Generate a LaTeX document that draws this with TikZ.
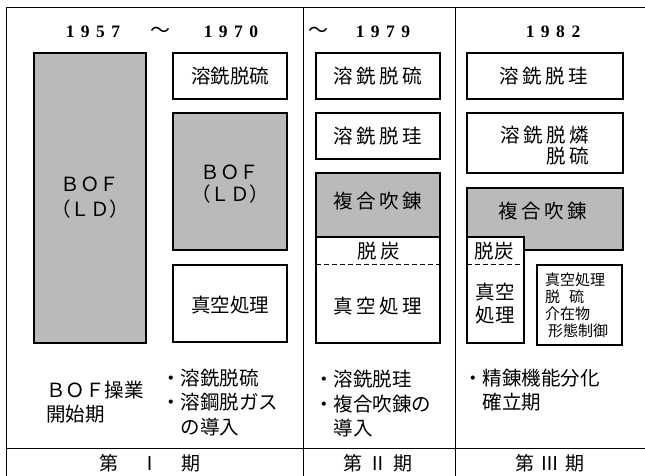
\documentclass[tikz,border=0pt]{standalone}
\usepackage{fontspec}
\newfontfamily\jp{Noto Sans CJK JP}
\newfontfamily\dg{Liberation Serif}
\newcommand\gp{\hspace{3.5pt}}
\begin{document}
\begin{tikzpicture}[x=1pt,y=-1pt,
  frame/.style={line width=0.8pt},
  wbox/.style={draw,line width=1.4pt,fill=white},
  gbox/.style={draw,line width=1.4pt,fill=black!27},
  lbl/.style={font=\jp\fontsize{19.5}{22}\selectfont,inner sep=0pt},
  slbl/.style={font=\jp\fontsize{15}{17}\selectfont,inner sep=0pt,align=left},
  btxt/.style={font=\jp\fontsize{19.5}{24.5}\selectfont,inner sep=0pt,align=left,anchor=north west},
  yr/.style={font=\dg\bfseries\fontsize{17.5}{20}\selectfont,inner sep=0pt},
  tl/.style={font=\jp\fontsize{20}{20}\selectfont,inner sep=0pt},
  ft/.style={font=\jp\fontsize{19}{20}\selectfont,inner sep=0pt}]
\useasboundingbox (0,0) rectangle (645,475);
% frame
\draw[frame] (645,7) -- (6,7) -- (6,476);
\draw[frame] (303,7) -- (303,476);
\draw[frame] (455,7) -- (455,476);
\draw[frame] (6,448) -- (645,448);
% years
\node[yr] (y1) at (93,32) {1\hspace{6.5pt}9\hspace{6.5pt}5\hspace{6.5pt}7};
\node[tl] (t1) at (160,32) {～};
\node[yr] (y2) at (231,32) {1\hspace{6.5pt}9\hspace{6.5pt}7\hspace{6.5pt}0};
\node[tl] (t2) at (318,32) {～};
\node[yr] (y3) at (383,32) {1\hspace{6.5pt}9\hspace{6.5pt}7\hspace{6.5pt}9};
\node[yr] (y4) at (553,32) {1\hspace{6.5pt}9\hspace{6.5pt}8\hspace{6.5pt}2};
% column 1
\draw[gbox] (34,53) rectangle (146,343);
\node[lbl,align=center,font=\jp\fontsize{19.5}{25}\selectfont] (bof1) at (90,198) {ＢＯＦ\\（ＬＤ）};
\draw[wbox] (173,53) rectangle (287,99);
\node[lbl] (a1) at (230,76) {溶銑脱硫};
\draw[gbox] (173,113) rectangle (287,250);
\node[lbl,align=center] (bof2) at (230,184) {ＢＯＦ\\（ＬＤ）};
\draw[wbox] (173,265) rectangle (287,342);
\node[lbl] (v1) at (230,305) {真空処理};
% column 2
\draw[wbox] (316,53) rectangle (440,99);
\node[lbl] (a2) at (378,76) {溶\gp 銑\gp 脱\gp 硫};
\draw[wbox] (316,113) rectangle (440,159);
\node[lbl] (b2) at (378,136) {溶\gp 銑\gp 脱\gp 珪};
\draw[gbox] (316,173) rectangle (440,237);
\node[lbl] (c2) at (378,201) {複\gp 合\gp 吹\gp 錬};
\draw[wbox] (316,237) rectangle (440,343);
\draw[line width=0.8pt,dash pattern=on 5pt off 3pt] (316,264) -- (440,264);
\node[lbl] (d2) at (379,251) {脱\gp 炭};
\node[lbl] (v2) at (378,306) {真\gp 空\gp 処\gp 理};
% column 3
\draw[wbox] (467,53) rectangle (623,99);
\node[lbl] (a3) at (544,76) {溶\gp 銑\gp 脱\gp 珪};
\draw[wbox] (467,113) rectangle (623,173);
\node[lbl,align=right,font=\jp\fontsize{19.5}{21}\selectfont] (b3) at (545,146) {溶\gp 銑\gp 脱\gp 燐\\脱\gp 硫};
\draw[gbox] (467,188) -- (623,188) -- (623,250) -- (524,250) -- (524,237) -- (467,237) -- cycle;
\node[lbl] (c3) at (543,211) {複\gp 合\gp 吹\gp 錬};
\draw[wbox] (467,237) rectangle (524,343);
\draw[line width=0.8pt,dash pattern=on 5pt off 3pt] (467,264) -- (524,264);
\node[lbl] (d3) at (494,251) {脱炭};
\node[lbl,align=center,font=\jp\fontsize{19.5}{23}\selectfont] (v3) at (495,304) {真空\\処理};
\draw[wbox] (537,265) rectangle (622,345);
\node[slbl,anchor=north west] (s3) at (545,273) {真空処理\\脱\hspace{9pt}硫\\介在物\\\hspace{3pt}形態制御};
% bottom texts
\node[btxt] (p1) at (46,380.5) {ＢＯＦ操業\\開始期};
\node[btxt] (p2) at (161,368.5) {・溶銑脱硫\\・溶鋼脱ガス\\\hspace{19.5pt}の導入};
\node[btxt] (p3) at (314,370) {・溶銑脱珪\\・複合吹錬の\\\hspace{19.5pt}導入};
\node[btxt] (p4) at (463,368.5) {・精錬機能分化\\\hspace{19.5pt}確立期};
% footer
\node[ft] (f1) at (150,463) {第\hspace{22pt}Ⅰ\hspace{22pt}期};
\node[ft] (f2) at (378,463) {第\hspace{6pt}Ⅱ\hspace{6pt}期};
\node[ft] (f3) at (550,463) {第\hspace{6pt}Ⅲ\hspace{6pt}期};
\end{tikzpicture}
\end{document}
